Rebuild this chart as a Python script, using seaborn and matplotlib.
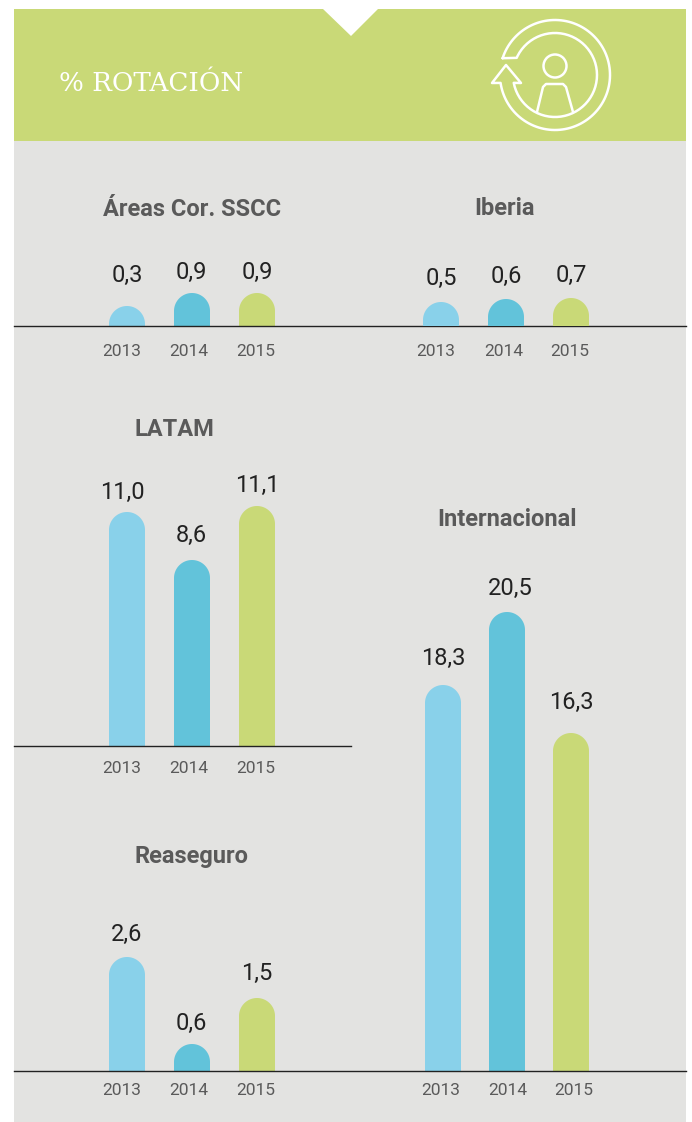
import numpy as np
import pandas as pd
import matplotlib.pyplot as plt
import seaborn as sns
from matplotlib.patches import Polygon, Rectangle, Circle

sns.set_theme(style='white')
plt.rcParams['font.family'] = ['Roboto', 'DejaVu Sans']

W, H = 692, 1122
GREEN = '#C9D977'
BLUE = '#89D1EA'
TEAL = '#62C3DA'
GRAY = '#E3E3E1'
DARK = '#5A5A5A'

years = ['2013', '2014', '2015']
colors = [BLUE, TEAL, GREEN]

# valores rotulados
areas_values = [0.3, 0.9, 0.9]
iberia_values = [0.5, 0.6, 0.7]
latam_values = [11.0, 8.6, 11.1]
internacional_values = [18.3, 20.5, 16.3]
reaseguro_values = [2.6, 0.6, 1.5]

# altura de las barras (no van a escala con los rotulos)
areas_bars = [20, 33, 33]
iberia_bars = [24, 27, 28]
latam_bars = [234, 186, 240]
internacional_bars = [386, 459, 338]
reaseguro_bars = [114, 27, 73]

fig = plt.figure(figsize=(W / 100, H / 100), dpi=100, facecolor='white')


def px_axes(left, top, right, bottom):
    return fig.add_axes([left / W, 1 - bottom / H, (right - left) / W, (bottom - top) / H])


# fondo, cabecera e icono
bg = px_axes(0, 0, W, H)
bg.set_xlim(0, W)
bg.set_ylim(H, 0)
bg.axis('off')
bg.add_patch(Rectangle((14, 141), 672, H - 141, color=GRAY, lw=0))
bg.add_patch(Polygon([(14, 9), (323, 9), (351, 36), (378, 9), (686, 9), (686, 141), (14, 141)], color=GREEN, lw=0))
bg.text(59, 83, '% ROTACIÓN', color='white', fontsize=18.8, va='center', ha='left',
        family=['DejaVu Serif'], fontweight='light')

cx, cy = 555, 75
a0 = np.arctan2(58 - cy, 502 - cx)
a1 = np.arctan2(83 - cy, 500 - cx)
t = np.linspace(a0, a1 + 2 * np.pi * (a1 < a0), 120)
a2 = np.arctan2(58 - cy, 517 - cx)
a3 = np.arctan2(83 - cy, 513 - cx)
t2 = np.linspace(a2, a3 + 2 * np.pi * (a3 < a2), 120)
icon_x = np.r_[cx + 55 * np.cos(t), 492, 506, 521, cx + 42 * np.cos(t2)[::-1], cx + 55 * np.cos(a0)]
icon_y = np.r_[cy + 55 * np.sin(t), 83, 65, 83, cy + 42 * np.sin(t2)[::-1], cy + 55 * np.sin(a0)]
bg.plot(icon_x, icon_y, color='white', lw=1.8, solid_joinstyle='round')
bg.add_patch(Circle((555, 66), 11.5, fc='none', ec='white', lw=1.8))
bg.plot([537, 543, 546, 563, 566, 573], [112, 87, 84, 84, 87, 112], color='white', lw=1.8,
        solid_joinstyle='round')


def panel(title, title_xy, values, bars, left, right, base, first_bar, step, tick_px, gaps, label_px,
          pad, line=True):
    top = base - 480
    ax = px_axes(left, top, right, base)
    ax.patch.set_alpha(0)
    df = pd.DataFrame({'year': years, 'bar': bars})
    sns.barplot(data=df, x='year', y='bar', hue='year', palette=colors, legend=False,
                width=36 / step, saturation=1, linewidth=0, ax=ax)
    ax.set_xlim((left - first_bar) / step, (right - first_bar) / step)
    ax.set_ylim(0, base - top)
    ax.set_xticks([(p - first_bar) / step for p in tick_px])
    ax.set_xticklabels(years, fontsize=12.5, color=DARK)
    ax.tick_params(axis='x', length=0, pad=pad)
    ax.set_yticks([])
    ax.set_xlabel('')
    ax.set_ylabel('')
    sns.despine(ax=ax, left=True)
    ax.spines['bottom'].set_color('#222222')
    ax.spines['bottom'].set_linewidth(1.0)
    ax.spines['bottom'].set_visible(line)

    # remate redondo: la barra se acorta y se le pone una media elipse encima
    r_y = 18
    for bar, val, h, gap, lp in zip(list(ax.patches), values, bars, gaps, label_px):
        x0, w = bar.get_x(), bar.get_width()
        th = np.linspace(0, np.pi, 60)
        bar.set_height(h - r_y)
        ax.add_patch(Polygon(np.c_[x0 + w / 2 + w / 2 * np.cos(th), h - r_y + r_y * np.sin(th)],
                             closed=True, fc=bar.get_facecolor(), lw=0))
        ax.annotate(f'{val:.1f}'.replace('.', ','), xy=((lp - first_bar) / step, h),
                    xytext=(0, gap * 0.72 - 0.7), textcoords='offset points',
                    ha='center', va='center', fontsize=17, color='#222222')
    bg.text(title_xy[0], title_xy[1], title, ha='center', va='center', fontsize=17,
            color=DARK, fontweight='bold')


panel('Áreas Cor. SSCC', (192, 209), areas_values, areas_bars, 14, 686, 326, 127, 65,
      [122, 189, 256], [32, 22, 22], [127, 191, 257], 12.8)
panel('Iberia', (504, 208), iberia_values, iberia_bars, 351, 686, 326, 441, 65,
      [436, 504, 570], [25, 24, 24], [441, 506, 571], 12.8, line=False)
panel('LATAM', (174, 429), latam_values, latam_bars, 14, 351, 746, 127, 65,
      [122, 189, 256], [21, 26, 22], [122, 191, 257], 10.6)
panel('Internacional', (507, 519), internacional_values, internacional_bars, 351, 686, 1071, 443, 64,
      [441, 508, 574], [28, 25, 32], [443, 510, 571], 8.5, line=False)
panel('Reaseguro', (192, 856), reaseguro_values, reaseguro_bars, 14, 686, 1071, 127, 65,
      [122, 189, 256], [24, 22, 26], [127, 191, 257], 8.5)

fig.savefig('out.png', dpi=100)
